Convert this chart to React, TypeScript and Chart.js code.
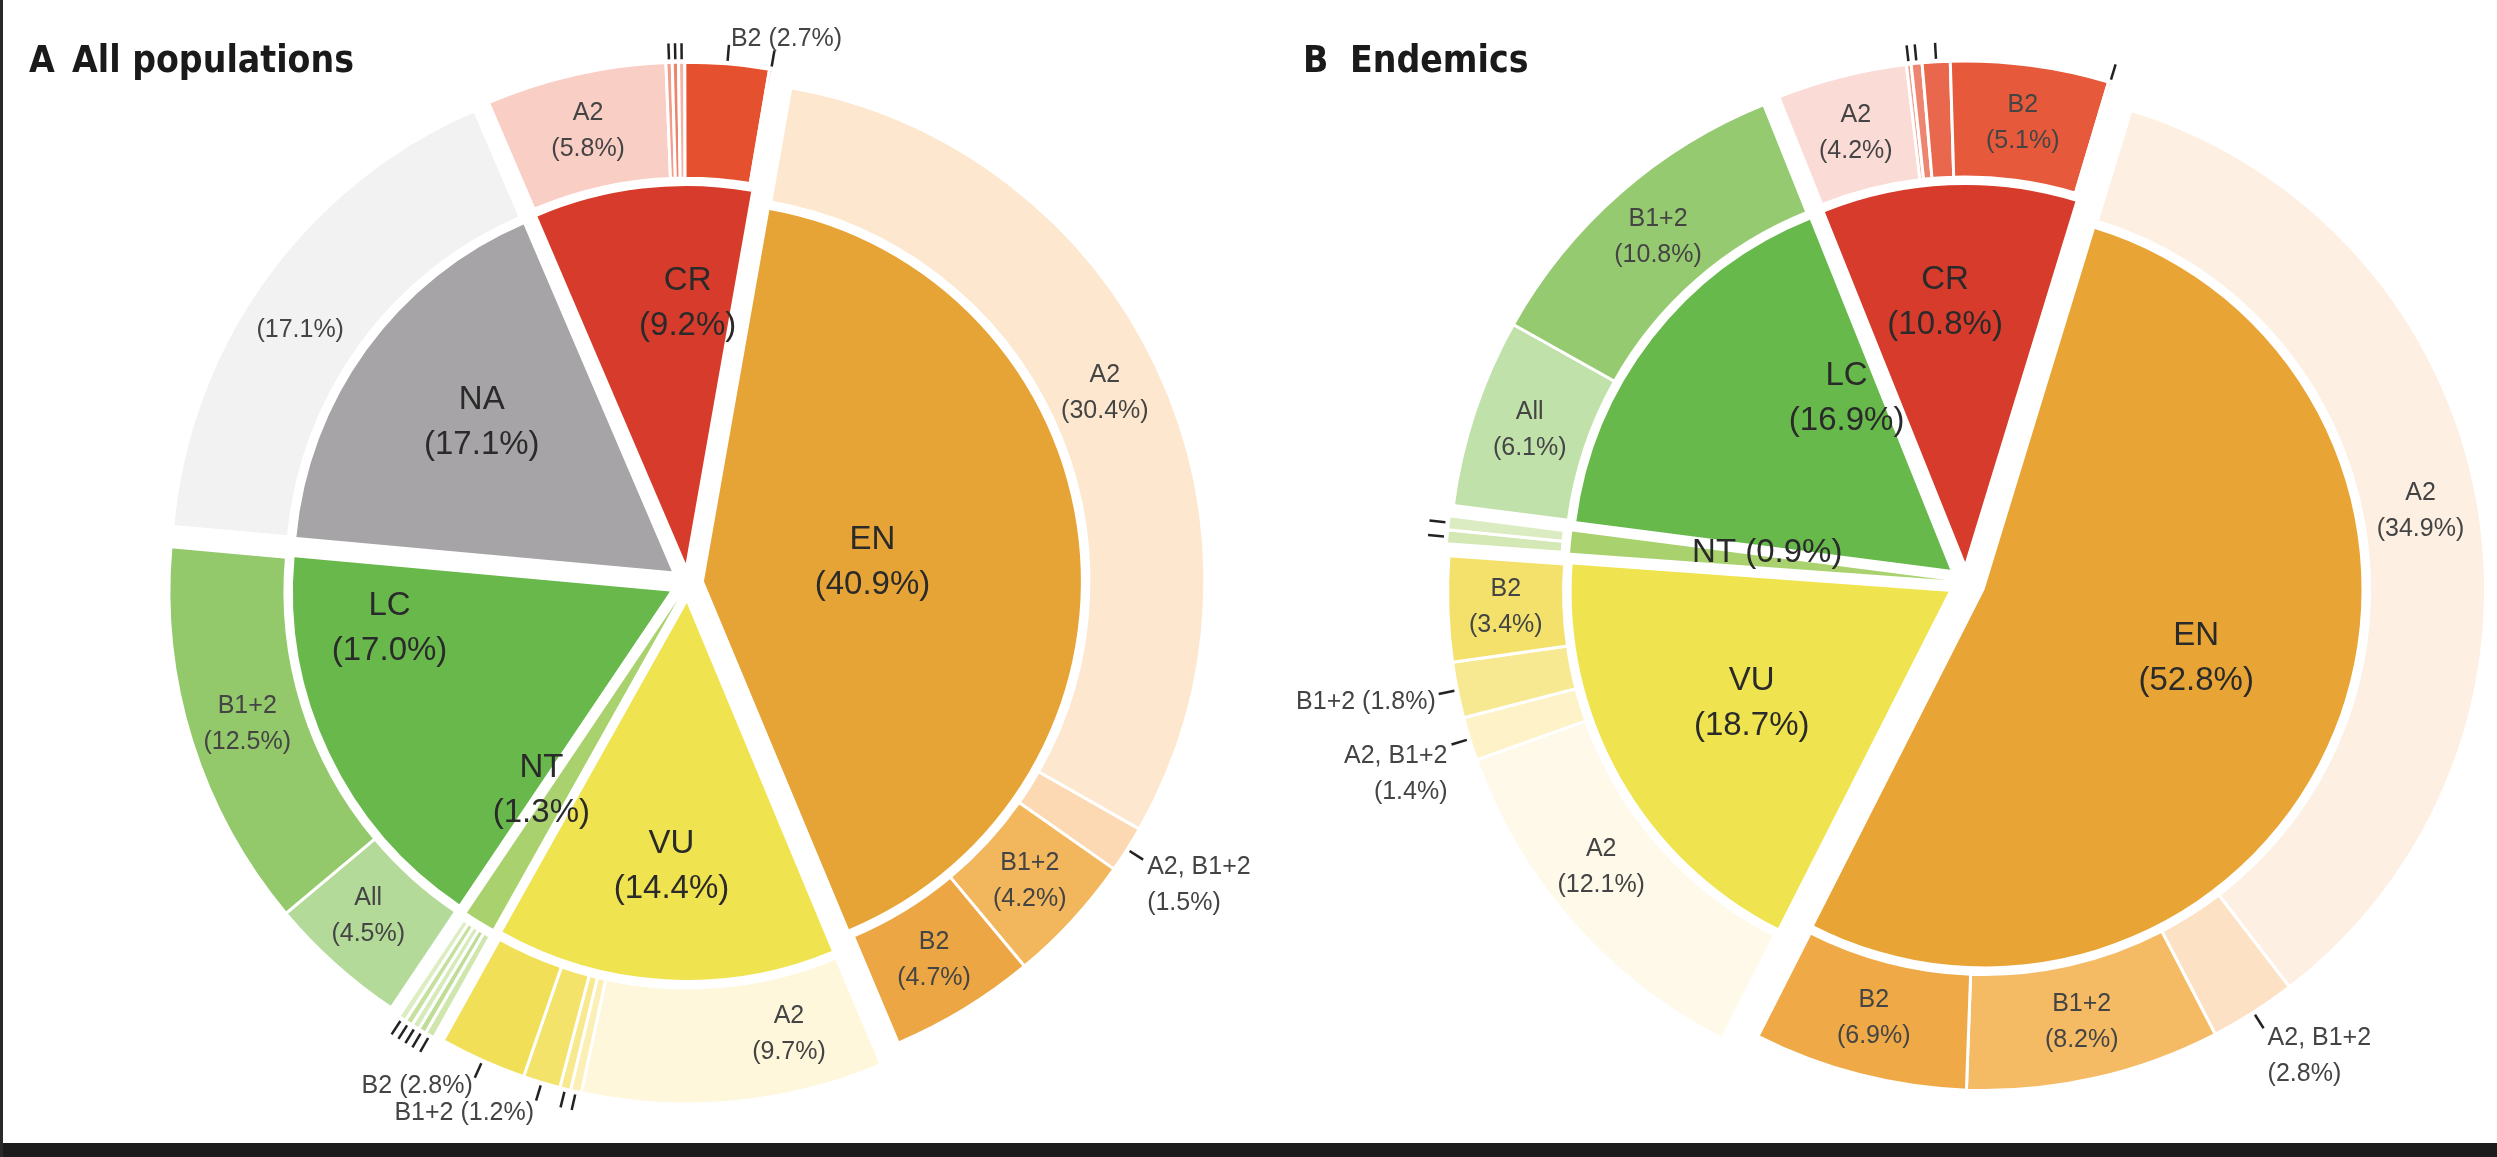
import React, { useEffect, useRef } from "react";
import { Chart, registerables } from "chart.js";

Chart.register(...registerables);

// ---------------- Panel A : All populations ----------------
const categoriesA = ["EN", "VU", "NT", "LC", "NA", "CR"];
const valuesA = [40.9, 14.4, 1.3, 17.0, 17.1, 9.2];
const subNamesA = [
  "A2", "A2, B1+2", "B1+2", "B2",
  "A2", "", "", "B1+2", "B2",
  "", "", "", "", "",
  "All", "B1+2",
  "",
  "A2", "", "", "", "B2", "",
];
const subValuesA = [
  30.4, 1.5, 4.2, 4.7,
  9.7, 0.35, 0.35, 1.2, 2.8,
  0.3, 0.25, 0.25, 0.25, 0.25,
  4.5, 12.5,
  17.1,
  5.8, 0.2, 0.2, 0.2, 2.7, 0.1,
];
const subParentA = [0, 0, 0, 0, 1, 1, 1, 1, 1, 2, 2, 2, 2, 2, 3, 3, 4, 5, 5, 5, 5, 5, 5];

// ---------------- Panel B : Endemics ----------------
const categoriesB = ["EN", "VU", "NT", "LC", "CR"];
const valuesB = [52.8, 18.7, 0.9, 16.9, 10.8];
const subNamesB = [
  "A2", "A2, B1+2", "B1+2", "B2",
  "A2", "A2, B1+2", "B1+2", "B2",
  "", "",
  "All", "B1+2",
  "A2", "", "", "", "B2", "",
];
const subValuesB = [
  34.9, 2.8, 8.2, 6.9,
  12.1, 1.4, 1.8, 3.4,
  0.45, 0.45,
  6.1, 10.8,
  4.2, 0.15, 0.35, 0.9, 5.1, 0.1,
];
const subParentB = [0, 0, 0, 0, 1, 1, 1, 1, 2, 2, 3, 3, 4, 4, 4, 4, 4, 4];

// ---------------- styles ----------------
const catColorsA = ["#e7a436", "#efe34f", "#a9d26f", "#68b84c", "#a6a4a6", "#d73b2b"];
const subColorsA = [
  "#fde8cf", "#fcd9b3", "#f2b65c", "#eca744",
  "#fef7dc", "#fcefb5", "#f8e98f", "#f4e36a", "#f1df58",
  "#cfe6ad", "#bfdd96", "#d7eab9", "#c6e19f", "#dcedc2",
  "#b3da98", "#93c86b",
  "#f2f2f2",
  "#f9cec5", "#f29c89", "#ee836c", "#f5b2a4", "#e5512f", "#e9694d",
];
const subModeA = [
  "in", "out", "in", "in",
  "in", "tick", "tick", "out", "out",
  "tick", "tick", "tick", "tick", "tick",
  "in", "in",
  "in",
  "in", "tick", "tick", "tick", "out", "tick",
];
const catColorsB = ["#e8a535", "#efe44f", "#a9d26f", "#67b94b", "#d73b2b"];
const subColorsB = [
  "#fdf0e2", "#fde1c5", "#f5bb64", "#efaa47",
  "#fef9e8", "#fdf2c8", "#f6e991", "#f3e16c",
  "#d3e8b5", "#dbecc2",
  "#c0e1a9", "#96ca70",
  "#fbdbd5", "#f0a090", "#ee8570", "#e9674c", "#e65a3b", "#e9694d",
];
const subModeB = [
  "in", "out", "in", "in",
  "in", "out", "out", "in",
  "tick", "tick",
  "in", "in",
  "in", "tick", "tick", "tick", "in", "tick",
];

const FONT = "'Liberation Sans', Arial, Helvetica, sans-serif";
const TITLE_FONT = "'DejaVu Sans Condensed', 'Liberation Sans Narrow', 'Liberation Sans', sans-serif";
const DEG = Math.PI / 180;

type Panel = {
  letter: string;
  title: string;
  letterX: number;
  titleX: number;
  categories: string[];
  values: number[];
  catColors: string[];
  subNames: string[];
  subValues: number[];
  subParent: number[];
  subColors: string[];
  subMode: string[];
  rotation: number;
  offsets: number[];
  innerFrac: number[];
  innerNudge: number[];
  innerOneLine: boolean[];
  ringNudge: Record<number, number>;
  outPlace: Record<number, [string, number, number, boolean]>;
  padding: { left: number; top: number; right: number; bottom: number };
  width: number;
  left: number;
};

const panelA: Panel = {
  letter: "A",
  title: "All populations",
  letterX: 29,
  titleX: 72,
  categories: categoriesA,
  values: valuesA,
  catColors: catColorsA,
  subNames: subNamesA,
  subValues: subValuesA,
  subParent: subParentA,
  subColors: subColorsA,
  subMode: subModeA,
  rotation: 10,
  offsets: [16, 20, 20, 20, 20, 20],
  innerFrac: [0.45, 0.7, 0.62, 0.75, 0.64, 0.69],
  innerNudge: [0, 0, 4, 18, 2, 7],
  innerOneLine: [false, false, false, false, false, false],
  ringNudge: { 4: -8, 14: 1, 16: -3 },
  outPlace: {
    1: ["left", 4, 8, true],
    7: ["right", -2, 12, false],
    8: ["right", -2, 8, false],
    21: ["left", 2, -6, false],
  },
  padding: { left: 126, top: 9, right: 0, bottom: 0 },
  width: 1250,
  left: 0,
};

const panelB: Panel = {
  letter: "B",
  title: "Endemics",
  letterX: 53,
  titleX: 100,
  categories: categoriesB,
  values: valuesB,
  catColors: catColorsB,
  subNames: subNamesB,
  subValues: subValuesB,
  subParent: subParentB,
  subColors: subColorsB,
  subMode: subModeB,
  rotation: 17,
  offsets: [20, 20, 20, 20, 20],
  innerFrac: [0.59, 0.6, 0.48, 0.53, 0.69],
  innerNudge: [-4, 0, 3, 21, -2],
  innerOneLine: [false, false, true, false, false],
  ringNudge: { 4: 3 },
  outPlace: {
    1: ["left", 4, 10, true],
    5: ["right", -4, 12, true],
    6: ["right", -3, 8, false],
  },
  padding: { left: 185, top: 7, right: 0, bottom: 0 },
  width: 1247,
  left: 1250,
};

const pct = (v: number) => `(${v.toFixed(1)}%)`;

function drawLines(ctx: CanvasRenderingContext2D, lines: string[], x: number, y: number, lh: number, align: CanvasTextAlign, centered: boolean) {
  ctx.textAlign = align;
  ctx.textBaseline = "middle";
  const y0 = centered ? y - ((lines.length - 1) * lh) / 2 : y;
  lines.forEach((t, k) => ctx.fillText(t, x, y0 + k * lh));
}

function makePlugin(P: Panel) {
  const shift = (chart: any, g: number) => {
    const arc = chart.getDatasetMeta(2).data[g];
    const mid = (arc.startAngle + arc.endAngle) / 2;
    return [Math.cos(mid) * P.offsets[g], Math.sin(mid) * P.offsets[g]];
  };
  return {
    id: "explode" + P.letter,
    beforeDatasetDraw(chart: any, args: any) {
      const ds: any = chart.data.datasets[args.index];
      if (ds.role === "gap") return false;
      const ctx = chart.ctx;
      args.meta.data.forEach((arc: any, i: number) => {
        const g = ds.role === "pie" ? i : P.subParent[i];
        const [dx, dy] = shift(chart, g);
        ctx.save();
        ctx.translate(dx, dy);
        arc.draw(ctx);
        ctx.restore();
      });
      return false;
    },
    afterDatasetsDraw(chart: any) {
      const ctx: CanvasRenderingContext2D = chart.ctx;
      ctx.save();
      // titles
      ctx.fillStyle = "#1a1a1a";
      ctx.font = `bold 37px ${TITLE_FONT}`;
      ctx.textAlign = "left";
      ctx.textBaseline = "alphabetic";
      ctx.fillText(P.letter, P.letterX, 72);
      ctx.fillText(P.title, P.titleX, 72);

      // inner labels
      const pieMeta = chart.getDatasetMeta(2);
      ctx.fillStyle = "#2a2a2a";
      ctx.font = `33px ${FONT}`;
      pieMeta.data.forEach((arc: any, g: number) => {
        const [sx, sy] = shift(chart, g);
        const a = (arc.startAngle + arc.endAngle) / 2 + P.innerNudge[g] * DEG;
        const r = arc.outerRadius * P.innerFrac[g];
        const x = arc.x + sx + Math.cos(a) * r;
        const y = arc.y + sy + Math.sin(a) * r;
        const cat = P.categories[g];
        const lines = P.innerOneLine[g] ? [`${cat} ${pct(P.values[g])}`] : [cat, pct(P.values[g])];
        drawLines(ctx, lines, x, y, 45, "center", true);
      });

      // ring labels and leader ticks
      const ringMeta = chart.getDatasetMeta(0);
      ctx.font = `25px ${FONT}`;
      ringMeta.data.forEach((arc: any, i: number) => {
        const mode = P.subMode[i];
        const g = P.subParent[i];
        const [sx, sy] = shift(chart, g);
        const cx = arc.x + sx;
        const cy = arc.y + sy;
        const name = P.subNames[i];
        const v = P.subValues[i];
        if (mode === "in") {
          const a = (arc.startAngle + arc.endAngle) / 2 + (P.ringNudge[i] || 0) * DEG;
          const r = (arc.innerRadius + arc.outerRadius) / 2;
          const lines = name ? [name, pct(v)] : [pct(v)];
          ctx.fillStyle = "#444444";
          drawLines(ctx, lines, cx + Math.cos(a) * r, cy + Math.sin(a) * r, 36, "center", true);
        } else {
          const a = (arc.startAngle + arc.endAngle) / 2;
          const r1 = arc.outerRadius + 3;
          const r2 = arc.outerRadius + 19;
          const x2 = cx + Math.cos(a) * r2;
          const y2 = cy + Math.sin(a) * r2;
          ctx.strokeStyle = "#222222";
          ctx.lineWidth = 2.5;
          ctx.beginPath();
          ctx.moveTo(cx + Math.cos(a) * r1, cy + Math.sin(a) * r1);
          ctx.lineTo(x2, y2);
          ctx.stroke();
          if (mode === "out") {
            const [align, dx, dy, two] = P.outPlace[i];
            const lines = two ? [name, pct(v)] : [`${name} ${pct(v)}`];
            ctx.fillStyle = "#444444";
            drawLines(ctx, lines, x2 + dx, y2 + dy, 36, align as CanvasTextAlign, false);
          }
        }
      });
      ctx.restore();
    },
  };
}

function PanelChart({ P }: { P: Panel }) {
  const ref = useRef<HTMLCanvasElement | null>(null);
  useEffect(() => {
    if (!ref.current) return;
    const chart = new Chart(ref.current, {
      type: "doughnut",
      data: {
        labels: P.subNames,
        datasets: [
          {
            data: P.subValues,
            backgroundColor: P.subColors,
            borderColor: "#ffffff",
            borderWidth: 3,
            weight: 116,
            role: "ring",
          } as any,
          {
            data: P.values,
            backgroundColor: "rgba(0,0,0,0)",
            borderWidth: 0,
            weight: 8,
            role: "gap",
          } as any,
          {
            data: P.values,
            backgroundColor: P.catColors,
            borderWidth: 0,
            weight: 377,
            role: "pie",
          } as any,
        ],
      },
      options: {
        responsive: false,
        animation: false,
        radius: 501,
        cutout: 0,
        rotation: P.rotation,
        events: [],
        layout: { padding: P.padding },
        plugins: { legend: { display: false }, tooltip: { enabled: false } },
      } as any,
      plugins: [makePlugin(P) as any],
    });
    return () => chart.destroy();
  }, [P]);
  return (
    <canvas
      ref={ref}
      width={P.width}
      height={1157}
      style={{ position: "absolute", left: P.left, top: 0, width: P.width, height: 1157 }}
    />
  );
}

export default function App() {
  useEffect(() => {
    document.body.style.margin = "0";
    document.body.style.background = "#ffffff";
  }, []);
  return (
    <div style={{ position: "relative", width: 2497, height: 1157, overflow: "hidden", background: "#ffffff" }}>
      <PanelChart P={panelA} />
      <PanelChart P={panelB} />
      <div style={{ position: "absolute", left: 0, top: 1143, width: 2497, height: 14, background: "#1c1c1c" }} />
      <div style={{ position: "absolute", left: 0, top: 0, width: 3, height: 1157, background: "#2a2a2a" }} />
    </div>
  );
}
